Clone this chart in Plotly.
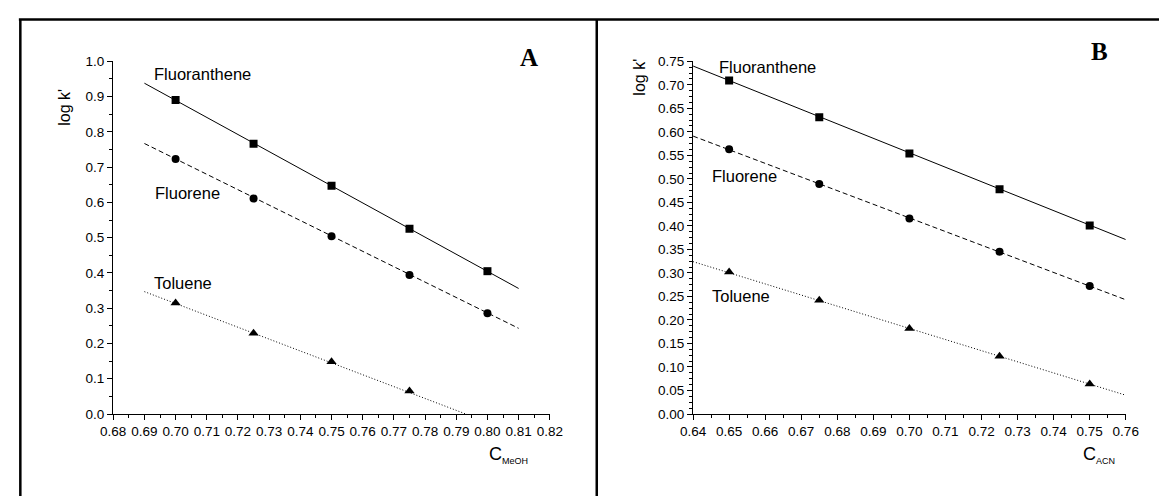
import plotly.graph_objects as go

# ---------------- data ----------------
# Panel A (methanol)
xA = [0.700, 0.725, 0.750, 0.775, 0.800]
fluoranthene_A = [0.890, 0.766, 0.647, 0.525, 0.405]
fluorene_A = [0.723, 0.611, 0.504, 0.394, 0.286]
toluene_A = [0.315, 0.229, 0.148, 0.065]
xA_tol = [0.700, 0.725, 0.750, 0.775]
# fitted lines, panel A (endpoints)
fitA_x = [0.69, 0.81]
fitA_fluoranthene = [0.938, 0.356]
fitA_fluorene = [0.767, 0.243]
fitA_toluene = [0.347, -0.057]

# Panel B (acetonitrile)
xB = [0.650, 0.675, 0.700, 0.725, 0.750]
fluoranthene_B = [0.709, 0.631, 0.554, 0.478, 0.401]
fluorene_B = [0.563, 0.489, 0.416, 0.345, 0.272]
toluene_B = [0.302, 0.242, 0.182, 0.123, 0.064]
fitB_x = [0.64, 0.76]
fitB_fluoranthene = [0.740, 0.371]
fitB_fluorene = [0.591, 0.243]
fitB_toluene = [0.324, 0.040]

xticksA = [0.68, 0.69, 0.70, 0.71, 0.72, 0.73, 0.74, 0.75, 0.76, 0.77, 0.78, 0.79, 0.80, 0.81, 0.82]
yticksA = [0.0, 0.1, 0.2, 0.3, 0.4, 0.5, 0.6, 0.7, 0.8, 0.9, 1.0]
xticksB = [0.64, 0.65, 0.66, 0.67, 0.68, 0.69, 0.70, 0.71, 0.72, 0.73, 0.74, 0.75, 0.76]
yticksB = [0.00, 0.05, 0.10, 0.15, 0.20, 0.25, 0.30, 0.35, 0.40, 0.45, 0.50, 0.55, 0.60, 0.65, 0.70, 0.75]

FONT = "Liberation Sans, Arial, sans-serif"
W, H = 1172, 504

fig = go.Figure()

def add_panel(xa, ya, xs, ys_list, xs_tol, fx, fits):
    styles = [("solid", "square", 8), ("5px,3px", "circle", 8), ("1px,2px", "triangle-up", 9)]
    for (dash, sym, ms), ys, fy, xx in zip(styles, ys_list, fits, [xs, xs, xs_tol]):
        fig.add_trace(go.Scatter(x=fx, y=fy, mode="lines", xaxis=xa, yaxis=ya,
                                 line=dict(color="black", width=1, dash=dash),
                                 showlegend=False, hoverinfo="skip"))
        fig.add_trace(go.Scatter(x=xx, y=ys, mode="markers", xaxis=xa, yaxis=ya,
                                 marker=dict(symbol=sym, size=ms, color="black"),
                                 showlegend=False))

add_panel("x", "y", xA, [fluoranthene_A, fluorene_A, toluene_A], xA_tol,
          fitA_x, [fitA_fluoranthene, fitA_fluorene, fitA_toluene])
add_panel("x2", "y2", xB, [fluoranthene_B, fluorene_B, toluene_B], xB,
          fitB_x, [fitB_fluoranthene, fitB_fluorene, fitB_toluene])

ydom = [1 - 419.5 / H, 1 - 56 / H]
common = dict(showgrid=False, zeroline=False, showline=True, linecolor="black", linewidth=1.3,
              ticks="outside", ticklen=5, tickwidth=1.2, tickcolor="black",
              tickfont=dict(family=FONT, size=13.5, color="black"), mirror=False)

fig.update_layout(
    width=W, height=H, margin=dict(l=0, r=0, t=0, b=0),
    paper_bgcolor="white", plot_bgcolor="white", showlegend=False,
    xaxis=dict(domain=[102.5 / W, 549 / W], range=[0.68, 0.82], tickvals=xticksA,
               ticktext=[f"{v:.2f}" for v in xticksA], anchor="y",
               minor=dict(dtick=0.005, tick0=0.68, ticks="outside", ticklen=3, tickcolor="black", tickwidth=1.2),
               **common),
    yaxis=dict(domain=ydom, range=[0, 1.0], tickvals=yticksA,
               ticktext=[f"{v:.1f}" for v in yticksA], anchor="x",
               minor=dict(dtick=0.05, tick0=0, ticks="outside", ticklen=3, tickcolor="black", tickwidth=1.2),
               **common),
    xaxis2=dict(domain=[695.5 / W, 1138 / W], range=[0.64, 0.76], tickvals=xticksB,
                ticktext=[f"{v:.2f}" for v in xticksB], anchor="y2",
                minor=dict(dtick=0.005, tick0=0.64, ticks="outside", ticklen=3, tickcolor="black", tickwidth=1.2),
                **common),
    yaxis2=dict(domain=ydom, range=[0, 0.75], tickvals=yticksB,
                ticktext=[f"{v:.2f}" for v in yticksB], anchor="x2",
                minor=dict(dtick=0.0125, tick0=0, ticks="outside", ticklen=3, tickcolor="black", tickwidth=1.2),
                **common),
)

ann = []
def label(text, x, y, xref, yref, size=16.5, xanchor="left", **kw):
    ann.append(dict(text=text, x=x, y=y, xref=xref, yref=yref, showarrow=False,
                    xanchor=xanchor, yanchor="middle",
                    font=dict(family=kw.pop("family", FONT), size=size, color="black"), **kw))

# series labels
label("Fluoranthene", 0.6924, 0.964, "x", "y")
label("Fluorene", 0.6926, 0.628, "x", "y")
label("Toluene", 0.6924, 0.372, "x", "y")
label("Fluoranthene", 0.6466, 0.738, "x2", "y2")
label("Fluorene", 0.6448, 0.507, "x2", "y2")
label("Toluene", 0.6446, 0.250, "x2", "y2")

# axis titles
label("log k'", 53 / W, 1 - 103 / H, "paper", "paper", size=16, xanchor="center", textangle=-90)
label("log k'", 641 / W, 1 - 72 / H, "paper", "paper", size=16, xanchor="center", textangle=-90)
label("C<sub><span style='font-size:9px'>MeOH</span></sub>", 485 / W, 1 - 462 / H, "paper", "paper", size=18)
label("C<sub><span style='font-size:9px'>ACN</span></sub>", 1092 / W, 1 - 462 / H, "paper", "paper", size=18)

# panel letters
label("<b>A</b>", 528 / W, 1 - 52 / H, "paper", "paper", size=25, xanchor="center",
      family="Liberation Serif, Times New Roman, serif")
label("<b>B</b>", 1111 / W, 1 - 46 / H, "paper", "paper", size=25, xanchor="center",
      family="Liberation Serif, Times New Roman, serif")

fig.update_layout(annotations=ann)

# frame lines
ytop = 1 - 13 / H
fig.add_shape(type="line", xref="paper", yref="paper", x0=6 / W, x1=1.0, y0=ytop, y1=ytop,
              line=dict(color="black", width=2.5))
fig.add_shape(type="line", xref="paper", yref="paper", x0=7.5 / W, x1=7.5 / W, y0=0, y1=ytop,
              line=dict(color="black", width=2.5))
fig.add_shape(type="line", xref="paper", yref="paper", x0=597 / W, x1=597 / W, y0=0, y1=ytop,
              line=dict(color="black", width=2.5))

fig.write_html("out.html", config={"displayModeBar": False},
               post_script="document.body.style.margin='0';document.body.style.padding='0';"
                           "document.body.style.overflow='hidden';")
